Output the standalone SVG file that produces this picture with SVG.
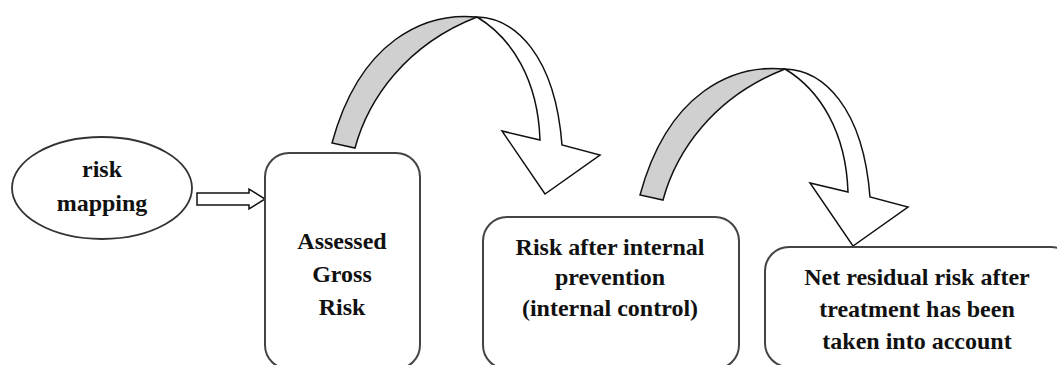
<svg xmlns="http://www.w3.org/2000/svg" width="1057" height="365" viewBox="0 0 1057 365">
<style>
.box{fill:#fff;stroke:#444;stroke-width:2}
.lbl{font-family:"Liberation Serif","Times New Roman","DejaVu Serif",serif;font-weight:bold;font-size:24px;fill:#111;text-anchor:middle}
.band{fill:#fff;stroke:#111;stroke-width:1.5;stroke-linejoin:miter}
.back{fill:#d0d0d0;stroke:#111;stroke-width:1.5}
</style>
<defs>
<g id="curved">
<path class="band" d="M477,17 C515,18 555,55 562,145 L600,155 L545,194 L502,131 L540,140 C538,80 512,38 477,17 Z"/>
<path class="back" d="M332,143 C360,40 425,12 477,17 C405,45 368,100 355,148 Z"/>
</g>
</defs>
<rect width="1057" height="365" fill="#fff"/>
<g id="connectors">
<path class="band" d="M197,193 L249,193 L249,189 L265,199 L249,209 L249,205 L197,205 Z"/>
<use href="#curved"/>
<use href="#curved" transform="translate(308,52)"/>
</g>
<g id="risk-mapping">
<ellipse cx="102" cy="188" rx="90" ry="51" fill="#fff" stroke="#333" stroke-width="1.8"/>
<text class="lbl" x="102" y="177">risk</text>
<text class="lbl" x="102" y="211">mapping</text>
</g>
<g id="assessed-gross-risk">
<rect class="box" x="265" y="153" width="155" height="216" rx="24"/>
<text class="lbl" x="342" y="249">Assessed</text>
<text class="lbl" x="342" y="282">Gross</text>
<text class="lbl" x="342" y="315">Risk</text>
</g>
<g id="risk-after-prevention">
<rect class="box" x="483" y="217" width="256" height="152" rx="24"/>
<text class="lbl" x="610" y="255">Risk after internal</text>
<text class="lbl" x="610" y="285">prevention</text>
<text class="lbl" x="610" y="316">(internal control)</text>
</g>
<g id="net-residual-risk">
<rect class="box" x="765" y="247" width="310" height="120" rx="24"/>
<text class="lbl" x="917" y="285">Net residual risk after</text>
<text class="lbl" x="917" y="317">treatment has been</text>
<text class="lbl" x="917" y="349">taken into account</text>
</g>
</svg>
